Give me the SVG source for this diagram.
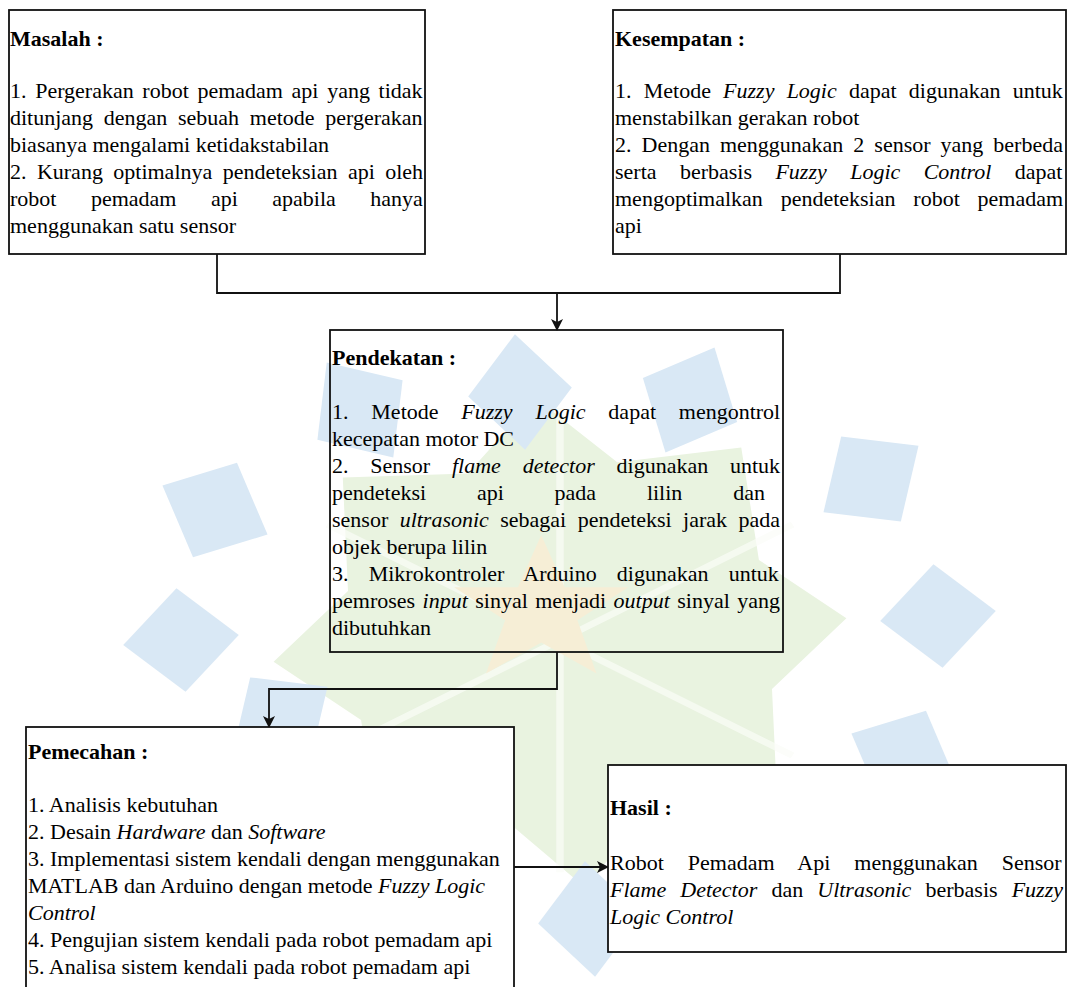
<svg xmlns="http://www.w3.org/2000/svg" width="1069" height="987" viewBox="0 0 1069 987">
<style>
.t{font-family:"Liberation Serif","Times New Roman",serif;font-size:22px;fill:#000}
.b{font-weight:bold}
.i{font-style:italic}
.box{stroke:#111;stroke-width:1.8}
.con{fill:none;stroke:#111;stroke-width:1.8}
.petal{fill:#d9e8f5}
.leaf{fill:#e9f3e0}
</style>
<defs>
<marker id="arr" viewBox="0 0 12 12" refX="11" refY="6" markerWidth="12" markerHeight="12" markerUnits="userSpaceOnUse" orient="auto">
<path d="M0,0 L12,6 L0,12 L3,6 z" fill="#111"/>
</marker>
<polygon id="pet" points="0,-58 52,0 0,58 -52,0"/>
</defs>
<rect width="1069" height="987" fill="#fff"/>
<g id="watermark">
<g transform="translate(560,640) scale(1.25,1.08)">
<polygon class="leaf" points="0,-225 60,-160 160,-165 165,-60 230,0 165,60 160,165 60,160 0,230 -60,160 -160,165 -165,60 -230,0 -165,-60 -160,-165 -60,-160" transform="rotate(-5)"/>
<g stroke="#fbfdf8" stroke-width="6" opacity="0.7">
<line x1="0" y1="0" x2="0" y2="-215"/>
<line x1="0" y1="0" x2="186" y2="-107"/>
<line x1="0" y1="0" x2="186" y2="107"/>
<line x1="0" y1="0" x2="0" y2="215"/>
<line x1="0" y1="0" x2="-186" y2="107"/>
<line x1="0" y1="0" x2="-186" y2="-107"/>
</g>
<polygon points="0,-85 22,-28 82,-28 34,8 52,66 0,32 -52,66 -34,8 -82,-28 -22,-28" fill="#f6eed6" transform="translate(-15,-25) scale(0.85)"/>
</g>
<g class="petal">
<use href="#pet" transform="translate(520,392) rotate(-5)"/>
<use href="#pet" transform="translate(690,400) rotate(25)"/>
<use href="#pet" transform="translate(871,479) rotate(55)"/>
<use href="#pet" transform="translate(938,616) rotate(85)"/>
<use href="#pet" transform="translate(904,758) rotate(115)"/>
<use href="#pet" transform="translate(778,869) rotate(145)"/>
<use href="#pet" transform="translate(590,919) rotate(175)"/>
<use href="#pet" transform="translate(399,894) rotate(205)"/>
<use href="#pet" transform="translate(280,720) rotate(235)"/>
<use href="#pet" transform="translate(181,640) rotate(265)"/>
<use href="#pet" transform="translate(215,510) rotate(295)"/>
<use href="#pet" transform="translate(360,410) rotate(325)"/>
</g>
</g>
<g id="connectors">
<polyline class="con" points="217,254 217,293 840,293 840,254"/>
<line class="con" x1="557" y1="293" x2="557" y2="330" marker-end="url(#arr)"/>
<polyline class="con" points="557,652 557,689 269,689 269,727" marker-end="url(#arr)"/>
<line class="con" x1="514" y1="867" x2="608" y2="867" marker-end="url(#arr)"/>
</g>
<g id="masalah">
<rect class="box" x="9" y="10" width="416" height="244" fill="#fff"/>
<text class="t b" x="10" y="46">Masalah :</text>
<text class="t" x="10" y="98" word-spacing="3.15">1. Pergerakan robot pemadam api yang tidak</text>
<text class="t" x="10" y="125" word-spacing="5.2">ditunjang dengan sebuah metode pergerakan</text>
<text class="t" x="10" y="152">biasanya mengalami ketidakstabilan</text>
<text class="t" x="10" y="179" word-spacing="4.9">2. Kurang optimalnya pendeteksian api oleh</text>
<text class="t" x="10" y="206" word-spacing="29">robot pemadam api apabila hanya</text>
<text class="t" x="10" y="233">menggunakan satu sensor</text>
</g>
<g id="kesempatan">
<rect class="box" x="613" y="10" width="453" height="244" fill="#fff"/>
<text class="t b" x="615" y="46">Kesempatan :</text>
<text class="t" x="615" y="98" word-spacing="6.7">1. Metode <tspan class="i">Fuzzy Logic</tspan> dapat digunakan untuk</text>
<text class="t" x="615" y="125">menstabilkan gerakan robot</text>
<text class="t" x="615" y="152" word-spacing="4.5">2. Dengan menggunakan 2 sensor yang berbeda</text>
<text class="t" x="615" y="179" word-spacing="17.9">serta berbasis <tspan class="i">Fuzzy Logic Control</tspan> dapat</text>
<text class="t" x="615" y="206" word-spacing="12.3">mengoptimalkan pendeteksian robot pemadam</text>
<text class="t" x="615" y="233">api</text>
</g>
<g id="pendekatan">
<rect class="box" x="330" y="330" width="453" height="322" fill="none"/>
<text class="t b" x="332" y="365">Pendekatan :</text>
<text class="t" x="332" y="419" word-spacing="17.3">1. Metode <tspan class="i">Fuzzy Logic</tspan> dapat mengontrol</text>
<text class="t" x="332" y="446">kecepatan motor DC</text>
<text class="t" x="332" y="473" word-spacing="16.3">2. Sensor <tspan class="i">flame detector</tspan> digunakan untuk</text>
<text class="t" x="332" y="500" word-spacing="45.3">pendeteksi api pada lilin dan</text>
<text class="t" x="332" y="527" word-spacing="5.9">sensor <tspan class="i">ultrasonic</tspan> sebagai pendeteksi jarak pada</text>
<text class="t" x="332" y="554">objek berupa lilin</text>
<text class="t" x="332" y="581" word-spacing="14.7">3. Mikrokontroler Arduino digunakan untuk</text>
<text class="t" x="332" y="608" word-spacing="1.95">pemroses <tspan class="i">input</tspan> sinyal menjadi <tspan class="i">output</tspan> sinyal yang</text>
<text class="t" x="332" y="635">dibutuhkan</text>
</g>
<g id="pemecahan">
<rect class="box" x="26" y="727" width="488" height="280" fill="#fff"/>
<text class="t b" x="28" y="759">Pemecahan :</text>
<text class="t" x="28" y="812">1. Analisis kebutuhan</text>
<text class="t" x="28" y="839">2. Desain <tspan class="i">Hardware</tspan> dan <tspan class="i">Software</tspan></text>
<text class="t" x="28" y="866">3. Implementasi sistem kendali dengan menggunakan</text>
<text class="t" x="28" y="893">MATLAB dan Arduino dengan metode <tspan class="i">Fuzzy Logic</tspan></text>
<text class="t i" x="28" y="920">Control</text>
<text class="t" x="28" y="947">4. Pengujian sistem kendali pada robot pemadam api</text>
<text class="t" x="28" y="974">5. Analisa sistem kendali pada robot pemadam api</text>
</g>
<g id="hasil">
<rect class="box" x="608" y="765" width="458" height="187" fill="#fff"/>
<text class="t b" x="610" y="815">Hasil :</text>
<text class="t" x="610" y="870" word-spacing="18.5">Robot Pemadam Api menggunakan Sensor</text>
<text class="t" x="610" y="897" word-spacing="8.6"><tspan class="i">Flame Detector</tspan> dan <tspan class="i">Ultrasonic</tspan> berbasis <tspan class="i">Fuzzy</tspan></text>
<text class="t i" x="610" y="924">Logic Control</text>
</g>
</svg>
